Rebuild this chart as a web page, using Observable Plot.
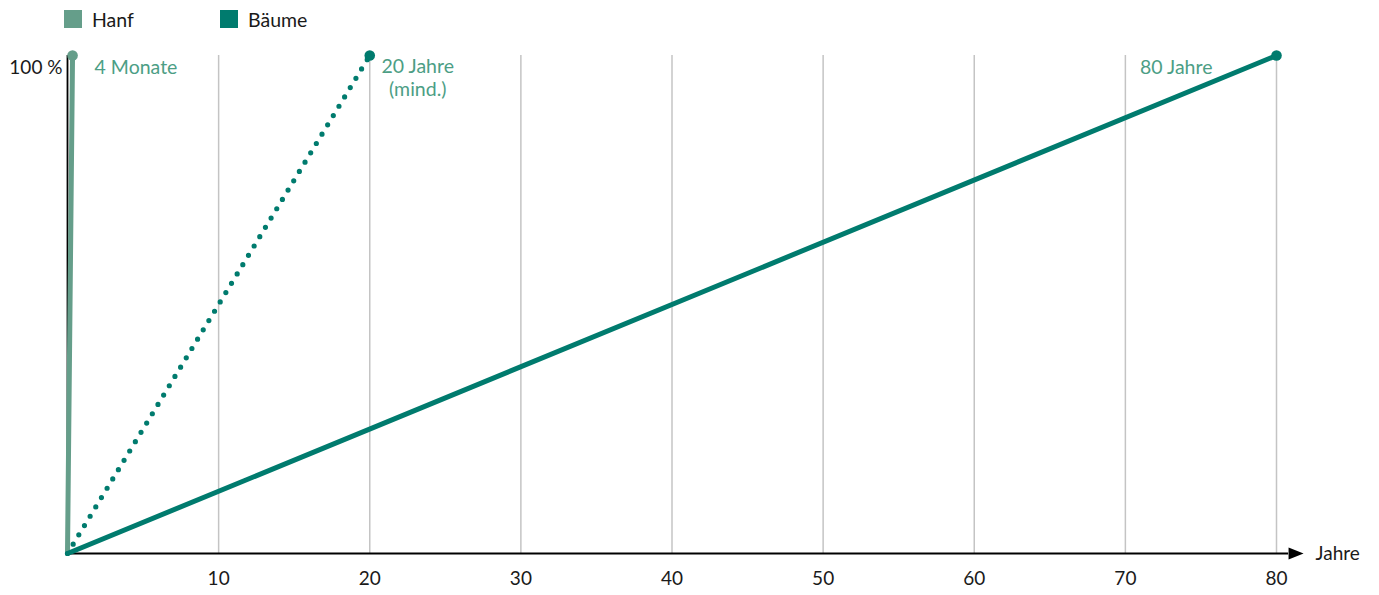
<!DOCTYPE html>
<html>
<head>
<meta charset="utf-8">
<script src="https://cdn.jsdelivr.net/npm/d3@7"></script>
<script src="https://cdn.jsdelivr.net/npm/@observablehq/plot@0.6"></script>
<style>
  html, body { margin: 0; padding: 0; background: #fff; }
  body { font-family: Lato, "Open Sans", sans-serif; color: #1a1a1a; }
  .legend { display: flex; align-items: center; height: 18px; margin: 10px 0 8px 64px; font-size: 19.5px; }
  .legend .item { display: flex; align-items: center; width: 156px; }
  .legend .swatch { width: 18px; height: 18px; margin-right: 10px; }
  #chart svg { display: block; overflow: visible; }
</style>
</head>
<body>
<div class="legend" id="legend"></div>
<div id="chart"></div>
<script>
// Growth time until full harvest: hemp vs. trees
const groups   = ["Hanf", "Bäume"];
const colors   = ["#659e8a", "#007b6e"];
const labelColor = "#4c9e85";

const lineIds  = ["hanf", "baeume-min", "baeume"];
const lineGroup = ["Hanf", "Bäume", "Bäume"];
const lineYears = [4 / 12, 20, 80];        // time until harvest, in years
const lineShare = [100, 100, 100];          // share reached, in %
const lineLabels = ["4 Monate", "20 Jahre\n(mind.)", "80 Jahre"];
const lineDotted = [false, true, false];

const xTicks = [10, 20, 30, 40, 50, 60, 70, 80];
const yTickLabel = "100 %";
const xAxisTitle = "Jahre";
const axisEnd = 80.8;                       // end of the x axis arrow shaft, in years

const colorOf = g => colors[groups.indexOf(g)];

// legend
const legend = document.getElementById("legend");
groups.forEach((g, i) => {
  const item = document.createElement("div");
  item.className = "item";
  item.innerHTML = `<span class="swatch" style="background:${colors[i]}"></span><span>${g}</span>`;
  legend.appendChild(item);
});

// each line runs from the origin to its end point
const ends = lineIds.map((id, i) => ({
  id, group: lineGroup[i], x: lineYears[i], y: lineShare[i],
  label: lineLabels[i], dotted: lineDotted[i]
}));
const segments = ends.flatMap(d => [
  {id: d.id, group: d.group, dotted: d.dotted, x: 0, y: 0},
  {id: d.id, group: d.group, dotted: d.dotted, x: d.x, y: d.y}
]);

const arrowHead = {
  draw(context) {
    context.moveTo(0, -6);
    context.lineTo(15, 0);
    context.lineTo(0, 6);
    context.closePath();
  }
};

const chart = Plot.plot({
  width: 1379,
  height: 559,
  marginLeft: 67,
  marginRight: 103,
  marginTop: 19,
  marginBottom: 42,
  x: {domain: [0, 80], axis: null},
  y: {domain: [0, 100], axis: null},
  style: {fontFamily: "Lato, 'Open Sans', sans-serif", fontSize: "19.5px", color: "#1a1a1a", overflow: "visible"},
  marks: [
    // vertical grid
    Plot.ruleX(xTicks, {y1: 0, y2: 100, stroke: "#c4c4c4", strokeWidth: 1.5}),
    // x axis tick labels
    Plot.axisX(xTicks, {tickSize: 0, tickPadding: 18, fontSize: 19, label: null, tickFormat: d => String(d)}),
    // axis lines
    Plot.ruleY([0], {x1: 0, x2: axisEnd, stroke: "#000", strokeWidth: 1.8}),
    Plot.ruleX([0], {y1: 0, y2: 100, stroke: "#000", strokeWidth: 1.8}),
    Plot.dot([axisEnd], {x: d => d, y: 0, symbol: arrowHead, fill: "#000", stroke: null}),
    Plot.text([xAxisTitle], {x: axisEnd, y: 0, text: d => d, textAnchor: "start", lineAnchor: "middle", dx: 27, fontSize: 19, fill: "#1a1a1a"}),
    Plot.text([yTickLabel], {x: 0, y: 100, text: d => d, textAnchor: "end", lineAnchor: "middle", dx: -5, dy: 12, fontSize: 19, fill: "#1a1a1a"}),
    // growth lines
    Plot.line(segments.filter(d => !d.dotted), {
      x: "x", y: "y", z: "id", stroke: d => colorOf(d.group), strokeWidth: 5, strokeLinecap: "round"
    }),
    Plot.line(segments.filter(d => d.dotted), {
      x: "x", y: "y", z: "id", stroke: d => colorOf(d.group), strokeWidth: 5.2,
      strokeLinecap: "round", strokeDasharray: "0 10.9"
    }),
    Plot.dot(ends, {x: "x", y: "y", r: 5.3, fill: d => colorOf(d.group), stroke: null}),
    // end labels
    Plot.text(ends.filter(d => d.id === "hanf"), {
      x: "x", y: "y", text: "label", textAnchor: "start", lineAnchor: "middle", dx: 22, dy: 12, fill: labelColor
    }),
    Plot.text(ends.filter(d => d.id === "baeume-min"), {
      x: "x", y: "y", text: "label", textAnchor: "middle", lineAnchor: "top", lineHeight: 1.15, dx: 48, dy: 2, fill: labelColor
    }),
    Plot.text(ends.filter(d => d.id === "baeume"), {
      x: "x", y: "y", text: "label", textAnchor: "end", lineAnchor: "middle", dx: -64, dy: 12, fill: labelColor
    })
  ]
});

document.getElementById("chart").appendChild(chart);
</script>
</body>
</html>
